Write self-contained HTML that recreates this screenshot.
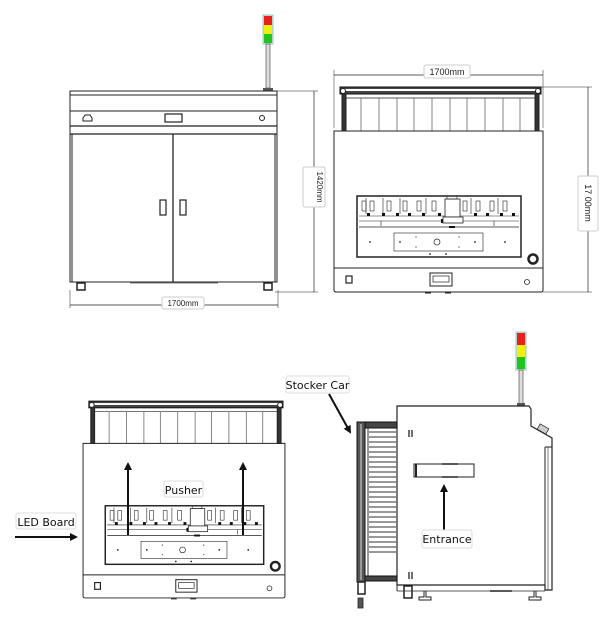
<!DOCTYPE html>
<html><head><meta charset="utf-8"><style>
html,body{margin:0;padding:0;background:#fff;}
svg{display:block;font-family:"Liberation Sans",sans-serif;}
.t{font-family:"DejaVu Sans","Liberation Sans",sans-serif;}
</style></head><body>
<svg width="607" height="620" viewBox="0 0 607 620" xmlns="http://www.w3.org/2000/svg">
<defs>
<marker id="ah" markerWidth="8" markerHeight="8" refX="6" refY="4" orient="auto" markerUnits="userSpaceOnUse"><path d="M0,0 L8,4 L0,8 z" fill="#111"/></marker>
<g id="front" fill="none" stroke="#222">
  <!-- frame -->
  <rect x="340" y="87" width="201" height="7" fill="#444" stroke="#111"/>
  <rect x="342" y="89" width="197" height="2" fill="#fff" stroke="none"/>
  <rect x="342" y="94" width="4" height="37" fill="#333"/>
  <rect x="535" y="94" width="4" height="37" fill="#333"/>
  <circle cx="343" cy="91" r="2.5" fill="#fff"/><circle cx="538" cy="91" r="2.5" fill="#fff"/>
  <line x1="346" y1="98" x2="535" y2="98" stroke-width="0.7"/>
  <g stroke="#666" stroke-width="0.8">
    <line x1="361" y1="98" x2="361" y2="131"/><line x1="379" y1="98" x2="379" y2="131"/>
    <line x1="397" y1="98" x2="397" y2="131"/><line x1="414" y1="98" x2="414" y2="131"/>
    <line x1="432" y1="98" x2="432" y2="131"/><line x1="450" y1="98" x2="450" y2="131"/>
    <line x1="467" y1="98" x2="467" y2="131"/><line x1="485" y1="98" x2="485" y2="131"/>
    <line x1="503" y1="98" x2="503" y2="131"/><line x1="520" y1="98" x2="520" y2="131"/>
  </g>
  <!-- body -->
  <path d="M334,131 H543 V290 Q543,292 541,292 H336 Q334,292 334,290 Z" stroke-width="1"/>
  <line x1="334" y1="268" x2="543" y2="268"/>
  <!-- window -->
  <rect x="357" y="196" width="164" height="61" stroke-width="1.5"/>
  <line x1="359" y1="216" x2="519" y2="216" stroke-width="0.6"/>
  <line x1="359" y1="221" x2="519" y2="221" stroke-width="0.6"/>
  <line x1="359" y1="227" x2="519" y2="227" stroke-width="0.8"/>
  <g stroke-width="0.6">
    <rect x="362" y="201" width="4" height="10"/><rect x="370" y="201" width="4" height="10"/>
    <rect x="387" y="201" width="4" height="10"/><rect x="403" y="201" width="4" height="10"/>
    <rect x="417" y="201" width="4" height="10"/><rect x="432" y="201" width="4" height="10"/>
    <rect x="463" y="201" width="4" height="10"/><rect x="476" y="201" width="4" height="10"/>
    <rect x="490" y="201" width="4" height="10"/><rect x="503" y="201" width="4" height="10"/>
    <line x1="366" y1="198" x2="366" y2="214"/><line x1="383" y1="198" x2="383" y2="214"/>
    <line x1="400" y1="198" x2="400" y2="214"/><line x1="426" y1="198" x2="426" y2="214"/>
    <line x1="471" y1="198" x2="471" y2="214"/><line x1="498" y1="198" x2="498" y2="214"/>
    <line x1="381" y1="221" x2="381" y2="226"/><line x1="494" y1="221" x2="494" y2="226"/>
  </g>
  <g fill="#111" stroke="none">
    <rect x="367" y="213" width="3" height="3"/><rect x="382" y="213" width="3" height="3"/>
    <rect x="396" y="213" width="3" height="3"/><rect x="408" y="213" width="3" height="3"/>
    <rect x="422" y="213" width="3" height="3"/><rect x="438" y="213" width="3" height="3"/>
    <rect x="474" y="213" width="3" height="3"/><rect x="486" y="213" width="3" height="3"/>
    <rect x="500" y="213" width="3" height="3"/><rect x="512" y="213" width="3" height="3"/>
    <rect x="441" y="219" width="3" height="4"/><rect x="449" y="226" width="6" height="2"/>
  </g>
  <rect x="445" y="199" width="15" height="18" fill="#fff" stroke-width="0.8"/>
  <rect x="447" y="196" width="10" height="3" stroke-width="0.6"/>
  <rect x="443" y="217" width="20" height="6" fill="#fff" stroke-width="0.8"/>
  <rect x="394" y="233" width="89" height="18" stroke-width="0.6"/>
  <g fill="#222" stroke="none">
    <circle cx="370" cy="242" r="0.9"/><circle cx="400" cy="242" r="0.9"/><circle cx="475" cy="242" r="0.9"/>
    <circle cx="505" cy="242" r="0.9"/><circle cx="416" cy="237" r="0.6"/><circle cx="416" cy="247" r="0.6"/>
    <circle cx="459" cy="237" r="0.6"/><circle cx="459" cy="247" r="0.6"/>
    <circle cx="430" cy="254" r="0.9"/><circle cx="446" cy="254" r="0.9"/>
  </g>
  <circle cx="437" cy="242" r="3" stroke-width="0.7"/>
  <circle cx="533" cy="259" r="4.5" stroke-width="2.5"/>
  <!-- lower panel -->
  <rect x="346" y="276" width="6" height="7" stroke-width="1.2"/>
  <rect x="430" y="273" width="22" height="13" stroke-width="1"/>
  <rect x="433" y="276" width="16" height="6" stroke-width="0.7"/>
  <circle cx="527" cy="282" r="2.5" stroke-width="0.8"/>
  <line x1="425" y1="293" x2="431" y2="293"/><line x1="445" y1="293" x2="451" y2="293"/>
</g>
</defs>

<!-- ============ TOP LEFT: door view ============ -->
<g fill="none" stroke="#222">
  <rect x="263" y="15" width="10" height="29" fill="#bfe0c8" stroke="#9cc"/>
  <rect x="264" y="16" width="8" height="9" fill="#e8201e" stroke="none"/>
  <rect x="264" y="25" width="8" height="9" fill="#f2ee10" stroke="none"/>
  <rect x="264" y="34" width="8" height="9" fill="#22c41e" stroke="none"/>
  <rect x="266" y="44" width="4" height="44" fill="#ddd" stroke="#555" stroke-width="0.7"/>
  <rect x="263" y="88" width="10" height="3" fill="#555" stroke="none"/>
  <rect x="70" y="91" width="207" height="191" stroke-width="1"/>
  <line x1="70" y1="95" x2="277" y2="95"/>
  <line x1="70" y1="111" x2="277" y2="111"/>
  <line x1="70" y1="126" x2="277" y2="126" stroke-width="1.2"/>
  <line x1="70" y1="134" x2="277" y2="134" stroke-width="1.2"/>
  <line x1="72" y1="134" x2="72" y2="282"/><line x1="275" y1="134" x2="275" y2="282"/>
  <line x1="173" y1="134" x2="173" y2="282" stroke-width="1.3"/>
  <rect x="160" y="200" width="6" height="15" stroke-width="1.2"/>
  <rect x="180" y="200" width="6" height="15" stroke-width="1.2"/>
  <rect x="165" y="114" width="17" height="8" stroke-width="1.2"/>
  <path d="M83,121 h9 v-3 l-2,-3 h-5 l-2,3 z" stroke-width="1"/>
  <circle cx="262" cy="118" r="2.5" stroke-width="1"/>
  <line x1="130" y1="283" x2="218" y2="283" stroke="#777"/>
  <path d="M77,283 h8 v7 h-8 z M264,283 h8 v7 h-8 z" stroke-width="1.5"/>
  <!-- dims -->
  <line x1="70" y1="305" x2="278" y2="305" stroke-width="0.7"/>
  <line x1="70" y1="290" x2="70" y2="308" stroke-width="0.5"/>
  <line x1="278" y1="290" x2="278" y2="308" stroke-width="0.5"/>
  <line x1="314" y1="91" x2="314" y2="292" stroke-width="0.7"/>
  <line x1="275" y1="91" x2="318" y2="91" stroke-width="0.5"/>
  <line x1="275" y1="292" x2="318" y2="292" stroke-width="0.5"/>
  <rect x="162" y="297" width="42" height="12" rx="2" fill="#fff" stroke="#ccc"/>
  <rect x="303" y="167" width="22" height="40" rx="2" fill="#fff" stroke="#ccc"/>
</g>
<text x="183" y="306" font-size="8" text-anchor="middle" fill="#222">1700mm</text>
<text transform="translate(317,187) rotate(90)" font-size="8" text-anchor="middle" fill="#222">1420mm</text>

<!-- ============ TOP RIGHT ============ -->
<use href="#front"/>
<g fill="none" stroke="#222">
  <line x1="334" y1="75" x2="543" y2="75" stroke-width="0.7"/>
  <line x1="334" y1="70" x2="334" y2="128" stroke-width="0.5"/>
  <line x1="543" y1="70" x2="543" y2="128" stroke-width="0.5"/>
  <line x1="588" y1="87" x2="588" y2="292" stroke-width="0.7"/>
  <line x1="538" y1="87" x2="592" y2="87" stroke-width="0.5"/>
  <line x1="543" y1="292" x2="592" y2="292" stroke-width="0.5"/>
  <rect x="424" y="65" width="46" height="13" rx="2" fill="#fff" stroke="#ccc"/>
  <rect x="578" y="176" width="20" height="55" rx="2" fill="#fff" stroke="#ccc"/>
</g>
<text x="447" y="75" font-size="9" text-anchor="middle" fill="#222">1700mm</text>
<text transform="translate(585,203) rotate(90)" font-size="9" text-anchor="middle" fill="#222">17 00mm</text>

<!-- ============ BOTTOM LEFT ============ -->
<use href="#front" transform="translate(-239.6,317.6) scale(0.966,0.96)"/>
<g stroke="#111" stroke-width="2">
  <line x1="128" y1="535" x2="128" y2="464" marker-end="url(#ah)"/>
  <line x1="243" y1="535" x2="243" y2="464" marker-end="url(#ah)"/>
  <line x1="15" y1="537" x2="76" y2="537" marker-end="url(#ah)"/>
</g>
<rect x="164" y="481" width="39" height="16" rx="2" fill="#fff" stroke="#ddd"/>
<text x="183.5" y="494" font-size="11" text-anchor="middle" fill="#111" class="t">Pusher</text>
<rect x="16" y="513" width="60" height="16" rx="2" fill="#fff" stroke="#ddd"/>
<text x="46" y="526" font-size="11" text-anchor="middle" fill="#111" class="t">LED Board</text>

<!-- ============ BOTTOM RIGHT: side view ============ -->
<g fill="none" stroke="#222">
  <rect x="516" y="332" width="10" height="38" fill="#bfe0c8" stroke="#9cc"/>
  <rect x="517" y="333" width="8" height="12" fill="#e8201e" stroke="none"/>
  <rect x="517" y="345" width="8" height="12" fill="#f2ee10" stroke="none"/>
  <rect x="517" y="357" width="8" height="12" fill="#22c41e" stroke="none"/>
  <rect x="519" y="370" width="4" height="34" fill="#ddd" stroke="#555" stroke-width="0.7"/>
  <rect x="517" y="403" width="8" height="3" fill="#555" stroke="none"/>
  <path d="M397,406 H529 L531,409 V426 L552,438 V590 H545 V585 H397 Z" stroke-width="1.2"/>
  <path d="M545,447 H552" stroke-width="1"/>
  <line x1="545" y1="447" x2="545" y2="585" stroke-width="1"/>
  <line x1="548" y1="447" x2="548" y2="590" stroke-width="0.6"/>
  <rect x="538" y="426" width="10" height="6" transform="rotate(30 543 429)" fill="#ccc" stroke-width="0.7"/>
  <line x1="397" y1="585" x2="397" y2="591"/><line x1="397" y1="591" x2="545" y2="591" stroke-width="0.8"/>
  <line x1="490" y1="591" x2="512" y2="591" stroke-width="1.5"/>
  <!-- stocker car -->
  <rect x="357" y="422" width="8" height="160" fill="#555" stroke="#111"/>
  <line x1="361" y1="424" x2="361" y2="580" stroke="#ddd" stroke-width="1"/>
  <rect x="365" y="422" width="32" height="6" fill="#444" stroke="#111"/>
  <rect x="365" y="576" width="32" height="5" fill="#444" stroke="#111"/>
  <line x1="368" y1="428" x2="368" y2="576" stroke="#333"/>
  <g stroke="#777" stroke-width="1.4">
    <line x1="369" y1="432" x2="397" y2="432"/><line x1="369" y1="437" x2="397" y2="437"/>
    <line x1="369" y1="442" x2="397" y2="442"/><line x1="369" y1="447" x2="397" y2="447"/>
    <line x1="369" y1="452" x2="397" y2="452"/><line x1="369" y1="457" x2="397" y2="457"/>
    <line x1="369" y1="462" x2="397" y2="462"/><line x1="369" y1="467" x2="397" y2="467"/>
    <line x1="369" y1="472" x2="397" y2="472"/><line x1="369" y1="477" x2="397" y2="477"/>
    <line x1="369" y1="482" x2="397" y2="482"/><line x1="369" y1="487" x2="397" y2="487"/>
    <line x1="369" y1="492" x2="397" y2="492"/><line x1="369" y1="497" x2="397" y2="497"/>
    <line x1="369" y1="502" x2="397" y2="502"/><line x1="369" y1="507" x2="397" y2="507"/>
    <line x1="369" y1="512" x2="397" y2="512"/><line x1="369" y1="517" x2="397" y2="517"/>
    <line x1="369" y1="522" x2="397" y2="522"/><line x1="369" y1="527" x2="397" y2="527"/>
    <line x1="369" y1="532" x2="397" y2="532"/><line x1="369" y1="537" x2="397" y2="537"/>
    <line x1="369" y1="542" x2="397" y2="542"/><line x1="369" y1="547" x2="397" y2="547"/>
    <line x1="369" y1="552" x2="397" y2="552"/>
  </g>
  <path d="M358,582 h7 v12 h-7 z M404,586 h8 v12 h-8 z" stroke-width="1.5"/>
  <path d="M358,598 h5 v10 h-5 z" fill="#555" stroke-width="0.8"/>
  <path d="M424,591 v6 h-5 v3 h12 v-3 h-5 v-6 M534,591 v6 h-5 v3 h12 v-3 h-5 v-6" stroke-width="1"/>
  <g stroke-width="1.3">
    <line x1="409" y1="430" x2="409" y2="437"/><line x1="412" y1="430" x2="412" y2="437"/>
    <line x1="409" y1="572" x2="409" y2="579"/><line x1="412" y1="572" x2="412" y2="579"/>
  </g>
  <rect x="414" y="464" width="60" height="13" stroke-width="1"/>
  <line x1="416" y1="464" x2="416" y2="477" stroke-width="2"/>
  <line x1="442" y1="464" x2="458" y2="464" stroke-width="1.5"/>
  <line x1="442" y1="477" x2="458" y2="477" stroke-width="1.5"/>
</g>
<g stroke="#111" stroke-width="2">
  <line x1="444" y1="530" x2="444" y2="486" marker-end="url(#ah)"/>
  <line x1="329" y1="394" x2="350" y2="432" marker-end="url(#ah)"/>
</g>
<rect x="422" y="530" width="50" height="18" rx="2" fill="#fff" stroke="#ddd"/>
<text x="447" y="543" font-size="11" text-anchor="middle" fill="#111" class="t">Entrance</text>
<rect x="286" y="376" width="63" height="17" rx="2" fill="#fff" stroke="#ddd"/>
<text x="317.5" y="389" font-size="11" text-anchor="middle" fill="#111" class="t">Stocker Car</text>
</svg>
</body></html>
